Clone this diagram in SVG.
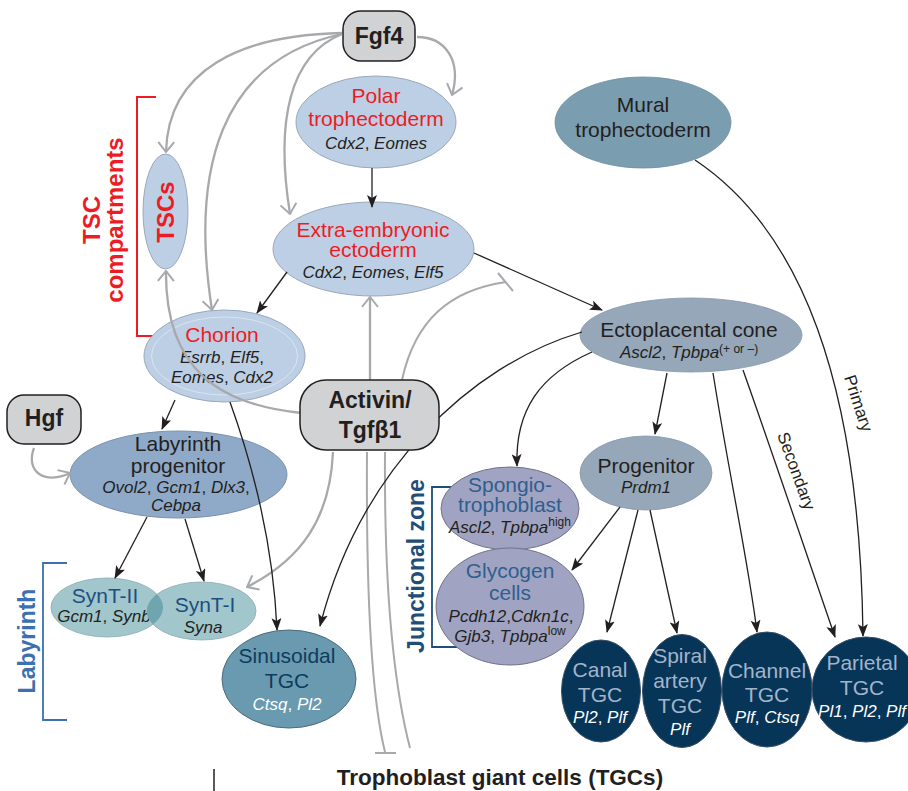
<svg xmlns="http://www.w3.org/2000/svg" width="908" height="791" viewBox="0 0 908 791">
<defs>
<style>
text{font-family:"Liberation Sans",Arial,sans-serif;text-anchor:middle}
.nm{font-size:21px;fill:#231f20}
.red{font-size:21px;fill:#ed1c24}
.it{font-size:17px;font-style:italic;fill:#231f20}
.bold{font-weight:bold;fill:#231f20;font-size:23px}
.box{fill:#d1d2d4;stroke:#231f20;stroke-width:1.5}
.lb{fill:#bccfe4;stroke:#9aa8bb;stroke-width:1}
.ga{fill:none;stroke:#a7a9ac;stroke-width:2.3;marker-end:url(#ag)}
.gl{fill:none;stroke:#a7a9ac;stroke-width:2}
.bk{fill:none;stroke:#231f20;stroke-width:1.3;marker-end:url(#ab)}
.tgc{fill:#063558;stroke:#3a4f66;stroke-width:1}
.tn{font-size:21px;fill:#a3b4ca}
.tg{font-size:17px;font-style:italic;fill:#ffffff}
.syn{font-size:21px;fill:#1c4f80}
.jz{font-size:21px;fill:#2f5f8f}
</style>
<marker id="ab" viewBox="0 0 13 10" refX="12" refY="5" markerWidth="13" markerHeight="10" markerUnits="userSpaceOnUse" orient="auto"><path d="M0,0 L13,5 L0,10 L3,5 z" fill="#231f20"/></marker>
<marker id="ag" viewBox="0 0 12 18" refX="11" refY="9" markerWidth="12" markerHeight="18" markerUnits="userSpaceOnUse" orient="auto"><path d="M1,1 L11,9 L1,17" fill="none" stroke="#a7a9ac" stroke-width="2"/></marker>
<clipPath id="c2"><ellipse cx="107" cy="607.5" rx="56" ry="29.5"/></clipPath>
</defs>
<rect width="908" height="791" fill="#ffffff"/>

<g id="brackets">
<path d="M156,97 H137 V336 H153" fill="none" stroke="#ed1c24" stroke-width="2"/>
<text transform="translate(100,220) rotate(-90)" style="font-size:24px;font-weight:bold;fill:#ed1c24">TSC</text>
<text transform="translate(123,220) rotate(-90)" style="font-size:24px;font-weight:bold;fill:#ed1c24">compartments</text>
<path d="M67,563 H43 V720 H67" fill="none" stroke="#3b70b2" stroke-width="1.8"/>
<text transform="translate(35,641) rotate(-90)" style="font-size:23px;font-weight:bold;fill:#3b70b2">Labyrinth</text>
<path d="M455,487 H432 V647 H458" fill="none" stroke="#1f4e79" stroke-width="1.8"/>
<text transform="translate(424,566) rotate(-90)" style="font-size:23px;font-weight:bold;fill:#1f4e79">Junctional zone</text>
</g>

<g id="fgf4"><rect class="box" x="343" y="11" width="72" height="50" rx="18"/><text class="bold" x="379" y="44">Fgf4</text></g>
<g id="hgf"><rect class="box" x="7" y="395" width="74" height="49" rx="17"/><text class="bold" x="44" y="426">Hgf</text></g>

<g id="polar"><ellipse class="lb" cx="376" cy="122" rx="80" ry="46"/>
<text class="red" x="376" y="103">Polar</text><text class="red" x="376" y="126">trophectoderm</text>
<text class="it" x="376" y="149">Cdx2<tspan font-style="normal">, </tspan>Eomes</text></g>

<g id="tscs"><ellipse class="lb" cx="165.5" cy="211.5" rx="22.5" ry="57.5"/>
<text transform="translate(174,212) rotate(-90)" style="font-size:24px;font-weight:bold;fill:#ed1c24">TSCs</text></g>

<g id="exe"><ellipse class="lb" cx="373.5" cy="249" rx="100.5" ry="47"/>
<text class="red" x="373" y="237">Extra-embryonic</text><text class="red" x="373" y="257">ectoderm</text>
<text class="it" x="373" y="278">Cdx2<tspan font-style="normal">, </tspan>Eomes<tspan font-style="normal">, </tspan>Elf5</text></g>

<g id="chorion"><ellipse class="lb" cx="224.5" cy="356" rx="80.5" ry="46"/>
<ellipse cx="224.5" cy="356" rx="73" ry="39" fill="none" stroke="#ffffff" stroke-opacity="0.55" stroke-width="0.8"/>
<text class="red" x="222" y="342">Chorion</text>
<text class="it" x="222" y="363">Esrrb<tspan font-style="normal">, </tspan>Elf5<tspan font-style="normal">,</tspan></text>
<text class="it" x="222" y="383">Eomes<tspan font-style="normal">, </tspan>Cdx2</text></g>

<g id="mural"><ellipse cx="643" cy="122.5" rx="88" ry="45.5" fill="#7b9db0" stroke="#6d8ea2" stroke-width="0.8"/>
<text class="nm" x="643" y="112">Mural</text><text class="nm" x="643" y="137">trophectoderm</text></g>

<g id="ecto"><ellipse cx="691" cy="335" rx="111" ry="37" fill="#95a7b9" stroke="#8597a9" stroke-width="0.8"/>
<text class="nm" x="689" y="337">Ectoplacental cone</text>
<text class="it" x="689" y="358">Ascl2<tspan font-style="normal">, </tspan>Tpbpa<tspan font-style="normal" font-size="12" dy="-5">(+ or –)</tspan></text></g>

<g id="labprog"><ellipse cx="178.5" cy="474.5" rx="108.5" ry="43.5" fill="#8fa9c8" stroke="#7d93ad" stroke-width="1"/>
<text class="nm" x="178" y="451">Labyrinth</text><text class="nm" x="178" y="473">progenitor</text>
<text class="it" x="176" y="493">Ovol2<tspan font-style="normal">, </tspan>Gcm1<tspan font-style="normal">, </tspan>Dlx3<tspan font-style="normal">,</tspan></text>
<text class="it" x="176" y="511">Cebpa</text></g>

<g id="progenitor"><ellipse cx="646" cy="473" rx="66" ry="37" fill="#95a7b9" stroke="#8597a9" stroke-width="0.8"/>
<text class="nm" x="646" y="473">Progenitor</text><text class="it" x="646" y="493">Prdm1</text></g>

<g id="synt2"><ellipse cx="107" cy="607.5" rx="56" ry="29.5" fill="#a1c6cc" stroke="#8aabb1" stroke-width="0.8"/>
<text class="syn" x="105" y="603">SynT-II</text>
<text class="it" x="104" y="622">Gcm1<tspan font-style="normal">, </tspan>Synb</text></g>
<g id="synt1"><ellipse cx="201.5" cy="611" rx="54.5" ry="29" fill="#a1c6cc" stroke="#8aabb1" stroke-width="0.8"/>
<ellipse cx="201.5" cy="611" rx="54.5" ry="29" fill="#6ea5ae" clip-path="url(#c2)"/>
<text class="syn" x="205" y="612">SynT-I</text>
<text class="it" x="203" y="633">Syna</text></g>

<g id="sinusoidal"><ellipse cx="289" cy="679" rx="67" ry="49" fill="#6a9ab0" stroke="#4d6b7c" stroke-width="1"/>
<text x="287" y="663" style="font-size:21px;fill:#0e3c5e">Sinusoidal</text>
<text x="287" y="688" style="font-size:21px;fill:#0e3c5e">TGC</text>
<text class="tg" x="287" y="710">Ctsq<tspan font-style="normal">, </tspan>Pl2</text></g>

<g id="spongio"><ellipse cx="510" cy="508.5" rx="69" ry="41.5" fill="#a0a4c2" stroke="#6f7288" stroke-width="1"/>
<text class="jz" x="510" y="492">Spongio-</text><text class="jz" x="510" y="512">trophoblast</text>
<text class="it" x="510" y="533">Ascl2<tspan font-style="normal">, </tspan>Tpbpa<tspan font-style="normal" font-size="12" dy="-7">high</tspan></text></g>

<g id="glycogen"><ellipse cx="510" cy="606.5" rx="74" ry="58.5" fill="#a0a4c2" stroke="#6f7288" stroke-width="1"/>
<text class="jz" x="510" y="578">Glycogen</text><text class="jz" x="510" y="600">cells</text>
<text class="it" x="511" y="622">Pcdh12<tspan font-style="normal">,</tspan>Cdkn1c<tspan font-style="normal">,</tspan></text>
<text class="it" x="510" y="642">Gjb3<tspan font-style="normal">, </tspan>Tpbpa<tspan font-style="normal" font-size="12" dy="-7">low</tspan></text></g>

<g id="canal"><ellipse class="tgc" cx="601" cy="691" rx="39.5" ry="51"/>
<text class="tn" x="600" y="677">Canal</text><text class="tn" x="600" y="702">TGC</text>
<text class="tg" x="600" y="723">Pl2<tspan font-style="normal">, </tspan>Plf</text></g>
<g id="spiral"><ellipse class="tgc" cx="682" cy="691" rx="39.5" ry="56.5"/>
<text class="tn" x="680" y="663">Spiral</text><text class="tn" x="680" y="688">artery</text><text class="tn" x="680" y="713">TGC</text>
<text class="tg" x="680" y="735">Plf</text></g>
<g id="channel"><ellipse class="tgc" cx="767" cy="689.5" rx="45" ry="57.5"/>
<text class="tn" x="767" y="678">Channel</text><text class="tn" x="767" y="702">TGC</text>
<text class="tg" x="767" y="723">Plf<tspan font-style="normal">, </tspan>Ctsq</text></g>
<g id="parietal"><ellipse class="tgc" cx="866" cy="689.5" rx="54" ry="52.5"/>
<text class="tn" x="862" y="670">Parietal</text><text class="tn" x="862" y="695">TGC</text>
<text class="tg" x="862" y="717">Pl1<tspan font-style="normal">, </tspan>Pl2<tspan font-style="normal">, </tspan>Plf</text></g>

<g id="connectors">
<path class="ga" d="M342,33 C240,35 168,70 166,152"/>
<path class="ga" d="M342,34 C220,60 190,170 212,310"/>
<path class="ga" d="M342,34 C290,55 275,120 290,214"/>
<path class="ga" d="M417,37 C445,37 462,60 452,95"/>
<path class="ga" d="M302,413 C220,405 165,370 166,271"/>
<path class="ga" d="M370,380 L370,297"/>
<path class="gl" d="M402,380 C415,320 450,290 506,282"/>
<path class="gl" d="M498,273 L513,291"/>
<path class="ga" d="M333,452 C330,520 300,560 247,587"/>
<path class="gl" d="M367,452 C366,600 372,700 385,752"/>
<path class="gl" d="M375,753 L396,753"/>
<path class="gl" d="M385,452 C384,600 395,690 410,748"/>
<path class="ga" d="M34,448 C25,472 45,485 70,473"/>

<path class="bk" d="M372,168 L372,207"/>
<path class="bk" d="M474,253 L602,310"/>
<path class="bk" d="M287,272 L257,313"/>
<path class="bk" d="M175,400 L162,429"/>
<path class="bk" d="M230,402 C258,480 274,560 277,630"/>
<path class="bk" d="M147,517 L115,578"/>
<path class="bk" d="M185,519 L204,581"/>
<path class="bk" d="M582,332 C470,365 360,470 320,626"/>
<path class="bk" d="M592,352 C540,375 515,410 517,466"/>
<path class="bk" d="M667,373 L655,434"/>
<path class="bk" d="M713,373 C730,480 748,560 757,632"/>
<path class="bk" d="M743,370 C775,460 805,550 835,637"/>
<path class="bk" d="M695,160 C800,230 860,380 863,636"/>
<path class="bk" d="M620,507 L572,570"/>
<path class="bk" d="M638,510 L607,632"/>
<path class="bk" d="M650,510 L677,633"/>
<text transform="translate(853,405) rotate(72)" style="font-size:17px;fill:#231f20">Primary</text>
<text transform="translate(791,473) rotate(70)" style="font-size:17px;fill:#231f20">Secondary</text>
</g>

<g id="activin"><rect class="box" x="300" y="380" width="139" height="70" rx="26"/>
<text class="bold" x="370" y="408">Activin/</text><text class="bold" x="370" y="438">Tgfβ1</text></g>

<g id="footer">
<line x1="214" y1="769" x2="214" y2="791" stroke="#231f20" stroke-width="1.5"/>
<text x="500" y="785" style="font-size:22.5px;font-weight:bold;fill:#231f20">Trophoblast giant cells (TGCs)</text>
</g>
</svg>
